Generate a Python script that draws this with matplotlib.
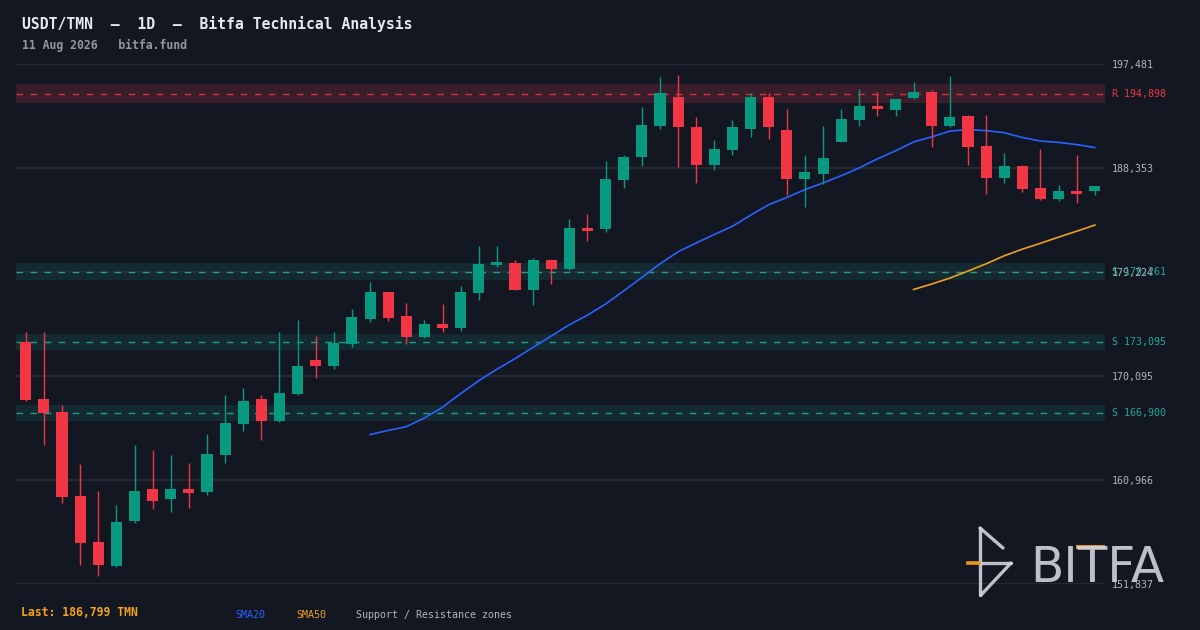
import numpy as np
import pandas as pd
import matplotlib
matplotlib.use("Agg")
import matplotlib.pyplot as plt
from matplotlib.patches import Rectangle
from matplotlib.lines import Line2D
import matplotlib.transforms as mtransforms

# ---------------- data ----------------
opens = [173106, 168103, 166962, 159585, 155570, 153441, 157395, 160204, 159322, 160204,
         159941, 163191, 165909, 168103, 166172, 168542, 171526, 170962, 172931, 175124,
         177494, 175388, 173545, 174686, 174335, 177406, 179864, 180040, 177670, 180303,
         179513, 183113, 183025, 187324, 189343, 192064, 194610, 191977, 188641, 189957,
         191801, 194610, 191713, 187412, 187851, 190660, 192591, 193820, 193469, 194522,
         195049, 192064, 192942, 190309, 187499, 188553, 186622, 185657, 186359, 186359]
highs = [173984, 173984, 167576, 162397, 160028, 158800, 164069, 163630, 163191, 162485,
         165031, 168454, 169068, 168454, 173984, 175037, 173633, 173984, 176002, 178372,
         177494, 176528, 175037, 176440, 178021, 181532, 181532, 180303, 180479, 180391,
         183903, 184342, 188992, 189518, 193732, 196365, 196541, 192854, 190835, 192591,
         194961, 194961, 193556, 189518, 192064, 193556, 195312, 195049, 194434, 195917,
         195224, 196453, 193030, 193030, 189694, 188641, 190045, 186885, 189518, 186798]
lows = [167900, 164069, 159000, 153529, 152563, 153354, 157219, 158448, 158185, 158536,
        159677, 162485, 165294, 164508, 166084, 168454, 169946, 170699, 172697, 174861,
        174949, 172931, 173457, 173984, 174072, 176791, 179688, 177670, 176353, 178196,
        179425, 181972, 182762, 186622, 188553, 191801, 188465, 187061, 188202, 189518,
        191099, 190923, 186007, 184957, 186973, 190660, 192064, 192942, 192942, 194434,
        190221, 191977, 188641, 186095, 187061, 186271, 185569, 185481, 185306, 186007]
closes = [168015, 166874, 159497, 155460, 153529, 157307, 160028, 159150, 160204, 159853,
          163275, 165996, 167927, 166172, 168630, 170962, 170962, 173018, 175300, 177494,
          175212, 173545, 174686, 174335, 177494, 179952, 180128, 177670, 180303, 179513,
          183113, 182850, 187412, 189343, 192152, 194961, 191977, 188641, 190045, 191977,
          194610, 191977, 187412, 188026, 189255, 192678, 193820, 193556, 194434, 195049,
          192064, 192854, 190221, 187499, 188553, 186534, 185657, 186359, 186095, 186799]

grid_ticks = [151837, 160966, 170095, 179224, 188353, 197481]
resistance_levels = [194898]
support_levels = [179261, 173095, 166900]
zone_half_pct = 0.0042
last_price = 186799

title = "USDT/TMN  \u2014  1D  \u2014  Bitfa Technical Analysis"
subtitle = "11 Aug 2026   bitfa.fund"

# ---------------- style ----------------
BG = "#131722"
GRID = "#2a2e39"
UP = "#089981"
DOWN = "#f23645"
SUP = "#22ab94"
RES = "#f23645"
TXT = "#b2b5be"
MONO = "DejaVu Sans Mono"

W, H = 1200, 630
fig = plt.figure(figsize=(12, 6.3), dpi=100, facecolor=BG)

ax_l, ax_r, ax_t, ax_b = 16, 1105, 64.3, 584.3
ax = fig.add_axes([ax_l / W, 1 - ax_b / H, (ax_r - ax_l) / W, (ax_b - ax_t) / H])
ax.set_facecolor(BG)
for s in ax.spines.values():
    s.set_visible(False)

n = len(closes)
x = np.arange(n)
ax.set_xlim(-0.54, n - 1 + 0.56)
ax.set_ylim(grid_ticks[0], grid_ticks[-1])

ax.set_xticks([])
ax.set_yticks(grid_ticks)
ax.yaxis.tick_right()
ax.set_yticklabels([f"{v:,}" for v in grid_ticks], fontfamily=MONO, fontsize=7.2, color=TXT)
ax.tick_params(axis="y", length=0, pad=5)
ax.grid(axis="y", color=GRID, linewidth=1.2)
ax.set_axisbelow(True)

# zones
trans = mtransforms.blended_transform_factory(ax.transAxes, ax.transData)
lab_x = 1.0 + 7 / (ax_r - ax_l)
for lvl in resistance_levels:
    hw = lvl * zone_half_pct
    ax.axhspan(lvl - hw, lvl + hw, color="#3a1d2a", zorder=0.5, lw=0)
    ax.axhline(lvl, color=RES, lw=1.0, linestyle=(0, (4.7, 5.4)), alpha=0.85, zorder=0.6)
    ax.text(lab_x, lvl, f"R {lvl:,}", transform=trans, ha="left", va="center",
            fontfamily=MONO, fontsize=7.2, color=RES, clip_on=False)
for lvl in support_levels:
    hw = lvl * zone_half_pct
    ax.axhspan(lvl - hw, lvl + hw, color="#132b30", zorder=0.5, lw=0)
    ax.axhline(lvl, color=SUP, lw=1.0, linestyle=(0, (4.7, 5.4)), alpha=0.9, zorder=0.6)
    ax.text(lab_x, lvl, f"S {lvl:,}", transform=trans, ha="left", va="center",
            fontfamily=MONO, fontsize=7.2, color=SUP, clip_on=False)

# SMAs
cs = pd.Series(closes, dtype=float)
sma20 = cs.rolling(20).mean()
sma50 = cs.rolling(50).mean()
ax.plot(x, sma20, color="#2962ff", lw=1.2, zorder=2)
ax.plot(x, sma50, color="#f0a020", lw=1.2, zorder=2)

# candles
bw = 0.61
for i in range(n):
    o, h, l, c = opens[i], highs[i], lows[i], closes[i]
    col = UP if c >= o else DOWN
    ax.vlines(x[i], l, h, color=col, lw=1.0, zorder=3)
    lo, hi = min(o, c), max(o, c)
    ax.add_patch(Rectangle((x[i] - bw / 2, lo), bw, max(hi - lo, 60), facecolor=col,
                           edgecolor="none", zorder=4))

# texts
fig.text(22 / W, 1 - 24 / H, title, fontfamily=MONO, fontweight="bold", fontsize=10.6,
         color="#e8e9ed", ha="left", va="center")
fig.text(22 / W, 1 - 45 / H, subtitle, fontfamily=MONO, fontweight="bold", fontsize=8.3,
         color="#9598a1", ha="left", va="center")
fig.text(21 / W, 1 - 613 / H, f"Last: {last_price:,} TMN", fontfamily=MONO,
         fontweight="bold", fontsize=8.3, color="#f7a21b", ha="left", va="center")
fig.text(235 / W, 1 - 615 / H, "SMA20", fontfamily=MONO, fontsize=7.2, color="#2962ff",
         ha="left", va="center")
fig.text(296 / W, 1 - 615 / H, "SMA50", fontfamily=MONO, fontsize=7.2, color="#f0a020",
         ha="left", va="center")
fig.text(356 / W, 1 - 615 / H, "Support / Resistance zones", fontfamily=MONO, fontsize=7.2,
         color=TXT, ha="left", va="center")

# watermark logo
def P(px, py):
    return (px / W, 1 - py / H)

LOGO = "#d1d4dc"
ORANGE = "#e8961e"
segs = [((980, 528), (980, 595)), ((980, 528), (1003, 548)),
        ((980, 563), (1011, 563)), ((1011, 563), (981, 595))]
for a, b in segs:
    (x0, y0), (x1, y1) = P(*a), P(*b)
    fig.add_artist(Line2D([x0, x1], [y0, y1], transform=fig.transFigure, color=LOGO,
                          lw=2.4, alpha=0.9, solid_capstyle="round"))
(x0, y0), (x1, y1) = P(968, 563), P(979, 563)
fig.add_artist(Line2D([x0, x1], [y0, y1], transform=fig.transFigure, color=ORANGE, lw=2.6))
fig.text(1030 / W, 1 - 582 / H, "BITFA", fontfamily="DejaVu Sans", fontsize=35,
         color=LOGO, alpha=0.9, ha="left", va="baseline")
fig.add_artist(Rectangle(P(1076, 549), 29 / W, 4.5 / H, transform=fig.transFigure,
                         facecolor=ORANGE, edgecolor="none"))

fig.savefig("out.png", dpi=100, facecolor=BG)
